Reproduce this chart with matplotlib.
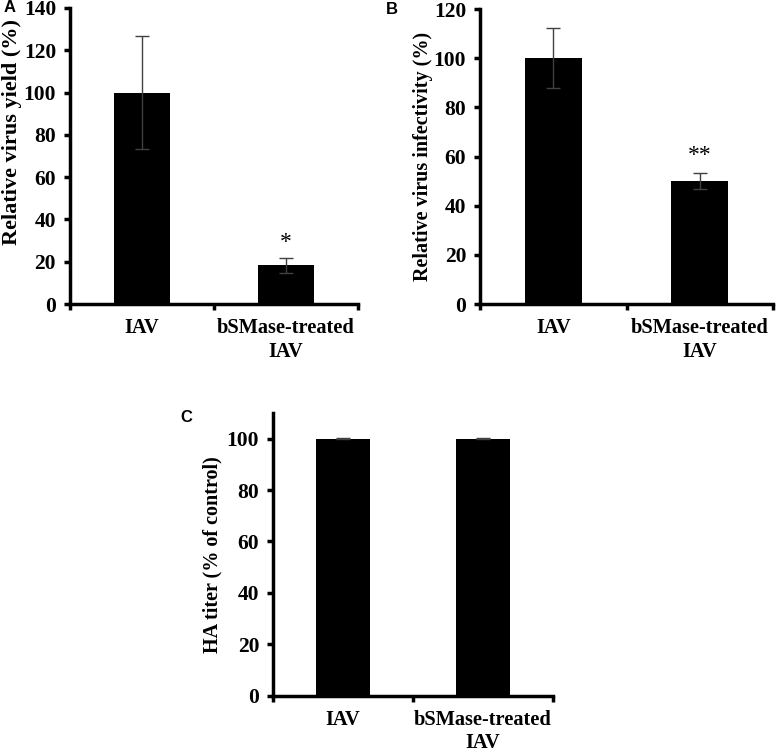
import matplotlib.pyplot as plt

# data
groups = ["IAV", "bSMase-treated\nIAV"]
yield_mean = [100, 18.3]
yield_err = [26.7, 3.5]
infect_mean = [100, 50]
infect_err = [12.2, 3.3]
ha_mean = [100, 100]
ha_err = [0.3, 0.3]

plt.rcParams['font.family'] = ['Liberation Serif', 'DejaVu Serif']
plt.rcParams['font.weight'] = 'bold'


def panel(fig, rect, means, errs, ylabel, ylsize, ymax, marks, mark_y):
    ax = fig.add_axes(rect)
    x = range(len(means))
    ax.bar(x, means, width=0.39, color='black', zorder=2)
    ax.errorbar(x, means, yerr=errs, fmt='none', ecolor='#404040',
                elinewidth=1.0, capsize=5, capthick=1.0, zorder=3)
    for xi, m, y in zip(x, marks, mark_y):
        if m:
            ax.text(xi, y, m, ha='center', va='bottom', fontsize=17,
                    fontweight='normal')
    ax.set_xlim(-0.5, len(means) - 0.5)
    ax.set_ylim(0, ymax)
    ax.set_yticks(range(0, min(ymax, 140) + 1, 20) if ymax != 110
                  else range(0, 101, 20))
    ax.set_xticks(list(x))
    ax.set_xticklabels(groups, fontsize=14.7, fontweight='bold', linespacing=1.25)
    ax.set_xticks([-0.5, 0.5, 1.5], minor=True)
    ax.tick_params(axis='x', which='major', length=0, pad=10)
    ax.tick_params(axis='x', which='minor', length=4, width=2.5, direction='out')
    ax.tick_params(axis='y', length=4, width=2.5, labelsize=15.5, pad=6)
    for t in ax.get_yticklabels():
        t.set_fontweight('bold')
    for s in ['top', 'right']:
        ax.spines[s].set_visible(False)
    for s in ['left', 'bottom']:
        ax.spines[s].set_linewidth(2.5)
    ax.set_ylabel(ylabel, fontsize=ylsize, fontweight='bold')
    return ax


fig = plt.figure(figsize=(7.77, 7.52), dpi=100)

axA = panel(fig, [0.0901, 0.5957, 0.3706, 0.3937], yield_mean, yield_err,
            "Relative virus yield (%)", 16, 140, ["", "*"], [0, 24])
axA.yaxis.set_label_coords(-0.168, 0.58)

axB = panel(fig, [0.6178, 0.5957, 0.3771, 0.3923], infect_mean, infect_err,
            "Relative virus infectivity (%)", 14.5, 120, ["", "**"], [0, 56])
axB.yaxis.set_label_coords(-0.162, 0.5)

axC = panel(fig, [0.3514, 0.0749, 0.3603, 0.3759], ha_mean, ha_err,
            "HA titer (% of control)", 14.5, 110, ["", ""], [0, 0])
axC.yaxis.set_label_coords(-0.18, 0.5)

for lbl, (px, py) in zip("ABC", [(4, 8), (386, 10), (180, 418)]):
    fig.text(px / 777, 1 - py / 752, lbl, family='Liberation Sans',
             fontweight='bold', fontsize=12, ha='left', va='center')

fig.savefig("out.png", dpi=100)
